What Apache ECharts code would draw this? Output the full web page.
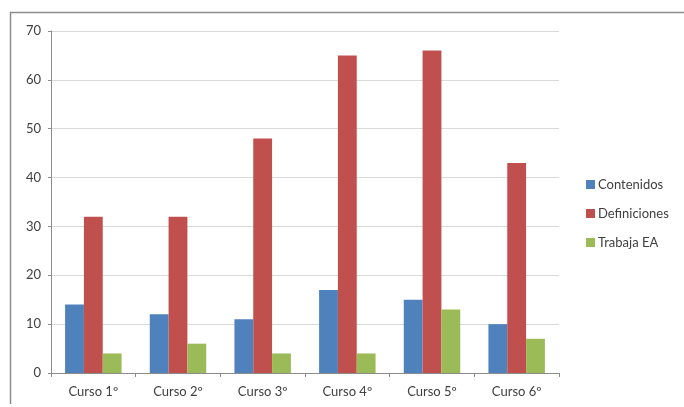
<!DOCTYPE html>
<html>
<head>
<meta charset="utf-8">
<script src="https://cdn.jsdelivr.net/npm/echarts@6/dist/echarts.min.js"></script>
<style>
  html, body { margin: 0; padding: 0; background: #fff; }
  #chart { width: 684px; height: 407px; }
</style>
</head>
<body>
<div id="chart"></div>
<script>
// Courses on the category axis
const cursos = ['Curso 1º', 'Curso 2º', 'Curso 3º', 'Curso 4º', 'Curso 5º', 'Curso 6º'];
// Series values per course
const contenidos = [14, 12, 11, 17, 15, 10];
const definiciones = [32, 32, 48, 65, 66, 43];
const trabajaEA = [4, 6, 4, 4, 13, 7];
// Value axis range
const yMin = 0, yMax = 70, yStep = 10;

const font = 'Lato, "Open Sans", sans-serif';
const textColor = '#404040';

const chart = echarts.init(document.getElementById('chart'), null, { renderer: 'canvas' });

const mkSeries = (name, data, color) => ({
  name, type: 'bar', data,
  barGap: '0%', barCategoryGap: '33.3%',
  itemStyle: { color },
  emphasis: { disabled: true }
});

chart.setOption({
  animation: false,
  textStyle: { fontFamily: font },
  // chart frame: top and left edges
  graphic: [{
    type: 'polyline',
    shape: { points: [[10.5, 404], [10.5, 12.5], [684, 12.5]] },
    style: { fill: 'none', stroke: '#8c8c8c', lineWidth: 1.5 },
    silent: true
  }],
  grid: { left: 51, right: 125, top: 31, bottom: 34, containLabel: false },
  legend: {
    orient: 'vertical',
    left: 581, top: 173,
    itemWidth: 9, itemHeight: 9,
    itemGap: 16,
    icon: 'rect',
    textStyle: { color: textColor, fontSize: 13, fontFamily: font, padding: [0, 0, 0, -2] },
    data: ['Contenidos', 'Definiciones', 'Trabaja EA']
  },
  xAxis: {
    type: 'category',
    data: cursos,
    axisLine: { lineStyle: { color: '#8c8c8c' } },
    axisTick: { show: true, length: 4, lineStyle: { color: '#8c8c8c' } },
    axisLabel: { color: textColor, fontSize: 13, margin: 12, fontFamily: font },
    splitLine: { show: false }
  },
  yAxis: {
    type: 'value',
    min: yMin, max: yMax, interval: yStep,
    axisLine: { show: true, lineStyle: { color: '#8c8c8c' } },
    axisTick: { show: true, length: 3, lineStyle: { color: '#8c8c8c' } },
    axisLabel: { color: textColor, fontSize: 13, margin: 10, fontFamily: font },
    splitLine: { lineStyle: { color: '#d9d9d9', width: 1 } }
  },
  series: [
    mkSeries('Contenidos', contenidos, '#4F81BD'),
    mkSeries('Definiciones', definiciones, '#C0504D'),
    mkSeries('Trabaja EA', trabajaEA, '#9BBB59')
  ]
});
</script>
</body>
</html>
